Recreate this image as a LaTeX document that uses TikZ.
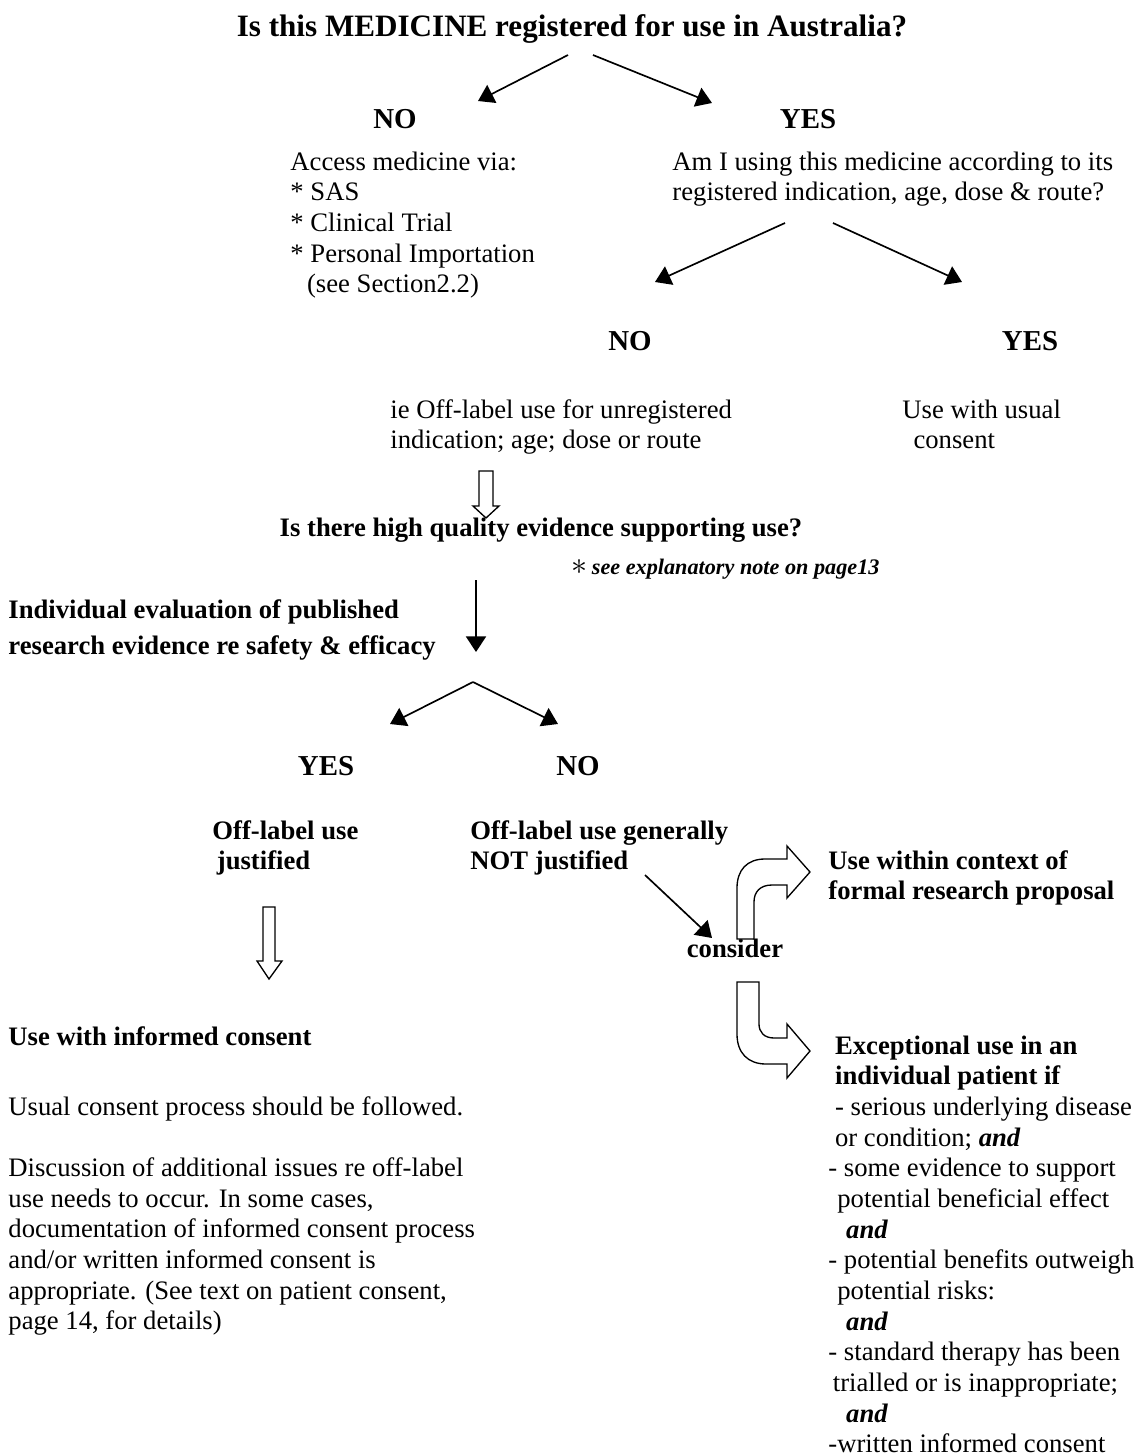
\documentclass[tikz,border=0pt]{standalone}
\usepackage{fontspec}
\setmainfont{Liberation Serif}
\usetikzlibrary{arrows.meta, positioning}

\begin{document}
\begin{tikzpicture}[
    x=0.45pt, y=-0.45pt,
    txt/.style={inner sep=0pt, align=left, anchor=base west, font=\fontsize{12}{13.8}\selectfont},
    btxt/.style={txt, font=\fontsize{12}{13.8}\selectfont\bfseries},
    answer/.style={inner sep=0pt, anchor=base, font=\fontsize{13}{15}\selectfont\bfseries},
    title/.style={inner sep=0pt, anchor=base, font=\fontsize{14}{16}\selectfont\bfseries},
    arrow/.style={-{Triangle[length=7pt, width=9pt]}, line width=0.75pt},
    hollow/.style={draw, line width=0.6pt, fill=white},
]
\useasboundingbox (0,0) rectangle (1138,1456);
% multi-line texts sit on the baseline of their last line (30.67 per line)

% Is it registered?
\node[title] (q1) at (572,36) {Is this MEDICINE registered for use in Australia?};
\coordinate (q1l) at (568,55);
\coordinate (q1r) at (593,55);
\coordinate (no1t) at (478,101);
\coordinate (yes1t) at (712,103);
\draw[arrow] (q1l) -- (no1t);
\draw[arrow] (q1r) -- (yes1t);

\node[answer] (no1) at (395,128) {NO};
\node[answer] (yes1) at (808,128) {YES};
\node[txt] (access) at (290,292.7) {Access medicine via:\\* SAS\\* Clinical Trial\\* Personal Importation\\\hspace*{7.5pt}(see Section2.2)};
\node[txt] (ami) at (672,200.7) {Am I using this medicine according to its\\registered indication, age, dose \& route?};

% Registered use?
\coordinate (q2l) at (785,223);
\coordinate (q2r) at (833,223);
\coordinate (no2t) at (655,282);
\coordinate (yes2t) at (962,282);
\draw[arrow] (q2l) -- (no2t);
\draw[arrow] (q2r) -- (yes2t);

\node[answer] (no2) at (630,350) {NO};
\node[answer] (yes2) at (1030,350) {YES};
\node[txt] (ieoff) at (390,448.7) {ie Off-label use for unregistered\\indication; age; dose or route};
\node[txt] (usual) at (902,448.7) {Use with usual\\\hspace*{5pt}consent};

\draw[hollow] (479,471) -- (493,471) -- (493,506) -- (499,506) -- (486,518) -- (473,506) -- (479,506) -- cycle;

% Evidence
\node[btxt, anchor=base] (evid) at (541,536) {Is there high quality evidence supporting use?};
\node[txt] (note) at (571,574) {\smash{\fontsize{15}{15}\selectfont$\ast$}\,{\fontsize{10}{12}\selectfont\bfseries\itshape see explanatory note on page13}};
\coordinate (e1) at (476,580);
\coordinate (e2) at (476,652);
\draw[arrow] (e1) -- (e2);

\node[btxt] (indiv) at (8,618) {Individual evaluation of published};
\node[btxt] (resev) at (8,654) {research evidence re safety \& efficacy};

\coordinate (q3) at (473,682);
\coordinate (yes3t) at (390,724);
\coordinate (no3t) at (558,724);
\draw[arrow] (q3) -- (yes3t);
\draw[arrow] (q3) -- (no3t);

\node[answer] (yes3) at (326,775) {YES};
\node[answer] (no3) at (578,775) {NO};
\node[btxt] (offj) at (212,869.7) {Off-label use\\\hspace*{2pt}justified};
\node[btxt] (offn) at (470,869.7) {Off-label use generally\\NOT justified};

% Justified branch
\draw[hollow] (263,907) -- (275,907) -- (275,961) -- (282,961) -- (269,979) -- (257,961) -- (263,961) -- cycle;
\node[btxt] (infc) at (8,1045) {Use with informed consent};
\node[txt] (proc) at (8,1329.7) {Usual consent process should be followed.\\[13.8pt]Discussion of additional issues re off-label\\use needs to occur. In some cases,\\documentation of informed consent process\\and/or written informed consent is\\appropriate. (See text on patient consent,\\page 14, for details)};

% Not justified branch
\node[btxt, anchor=base] (consider) at (735,957) {consider};
\coordinate (c1) at (645,875);
\coordinate (c2) at (712,938);
\draw[arrow] (c1) -- (c2);

\draw[hollow] (737,939) -- (737,888) .. controls (737,870) and (747,859) .. (765,859) -- (787,859) -- (787,846) -- (810,872) -- (787,898) -- (787,885) -- (772,885) .. controls (760,885) and (754,892) .. (754,902) -- (754,939) -- cycle;
\draw[hollow] (737,982) -- (737,1034) .. controls (737,1053) and (748,1064) .. (766,1064) -- (787,1064) -- (787,1078) -- (810,1051) -- (787,1024) -- (787,1038) -- (774,1038) .. controls (764,1038) and (759,1032) .. (759,1024) -- (759,982) -- cycle;

\node[btxt] (within) at (828,899.7) {Use within context of\\formal research proposal};
\node[txt] (except) at (828,1452.7) {\hspace*{3pt}\textbf{Exceptional use in an}\\
  \hspace*{3pt}\textbf{individual patient if}\\
  \hspace*{3pt}- serious underlying disease\\
  \hspace*{3pt}or condition; \textbf{\textit{and}}\\
  - some evidence to support\\
  \hspace*{4pt}potential beneficial effect\\
  \hspace*{8pt}\textbf{\textit{and}}\\
  - potential benefits outweigh\\
  \hspace*{4pt}potential risks:\\
  \hspace*{8pt}\textbf{\textit{and}}\\
  - standard therapy has been\\
  \hspace*{2pt}trialled or is inappropriate;\\
  \hspace*{8pt}\textbf{\textit{and}}\\
  -written informed consent};
\end{tikzpicture}
\end{document}
